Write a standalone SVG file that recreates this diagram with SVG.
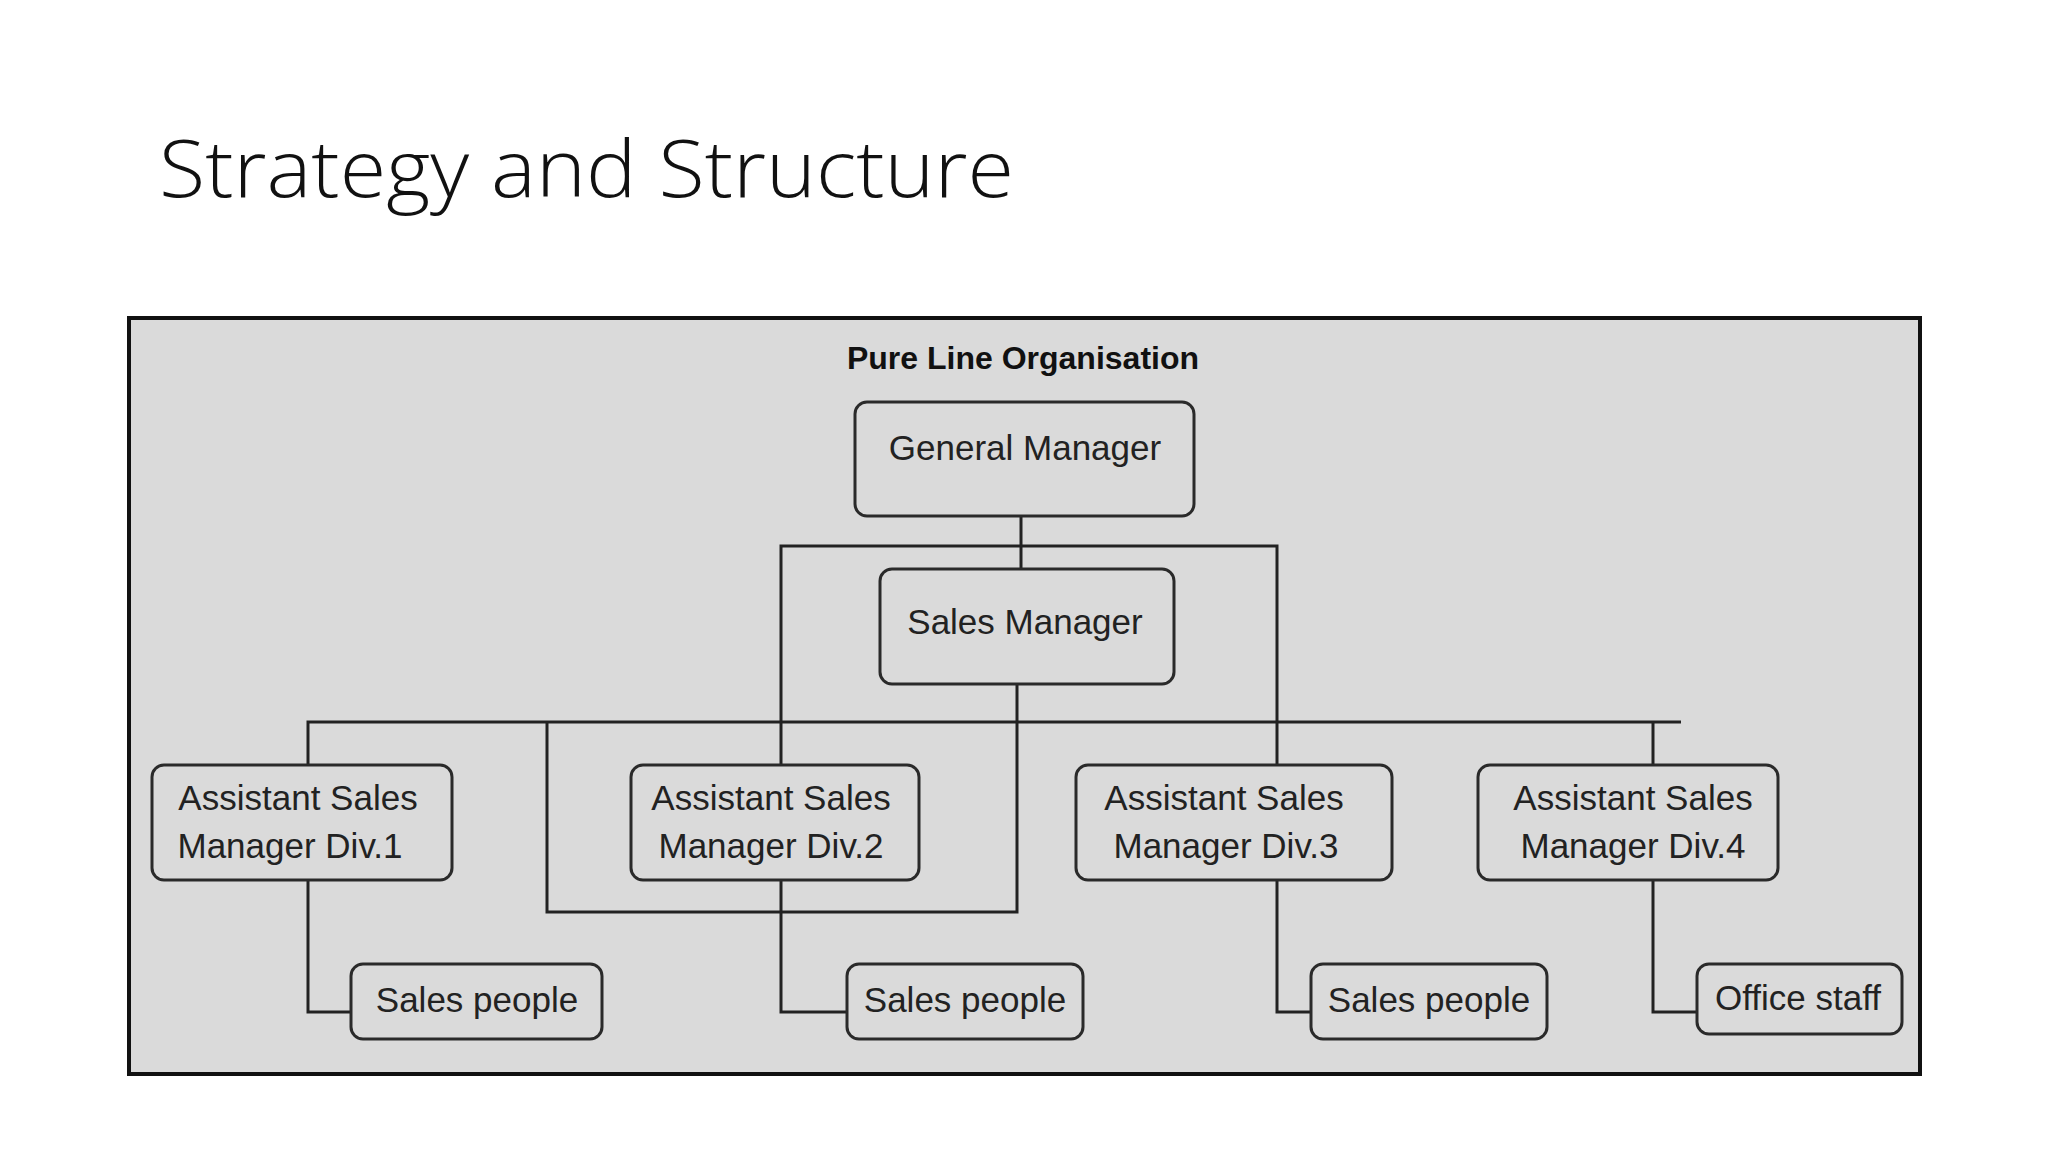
<svg xmlns="http://www.w3.org/2000/svg" width="2048" height="1152" viewBox="0 0 2048 1152">
<style>
.box{fill:#dadada;stroke:#2a2a2a;stroke-width:3}
.t{font-family:"Liberation Sans",Arial,sans-serif;font-size:35px;fill:#222;text-anchor:middle}
.c{fill:none;stroke:#222;stroke-width:3}
</style>
<rect width="2048" height="1152" fill="#fff"/>
<text x="159" y="197" font-family="'Open Sans',sans-serif" font-weight="300" font-size="80" fill="#111" textLength="855" lengthAdjust="spacingAndGlyphs">Strategy and Structure</text>
<rect x="129" y="318" width="1791" height="756" fill="#dadada" stroke="#111" stroke-width="4"/>
<text x="1023" y="369" font-family="'Liberation Sans',Arial,sans-serif" font-weight="bold" font-size="32" fill="#111" text-anchor="middle">Pure Line Organisation</text>
<g id="connectors" class="c">
<path d="M1021 516V569"/>
<path d="M781 765V546H1277V765"/>
<path d="M1017 684V912H547V722"/>
<path d="M308 765V722H1681M1653 722V765"/>
<path d="M308 880V1012H351"/>
<path d="M781 880V1012H847"/>
<path d="M1277 880V1012H1311"/>
<path d="M1653 880V1012H1697"/>
</g>
<g id="gm"><rect class="box" x="855" y="402" width="339" height="114" rx="12"/><text class="t" x="1025" y="460">General Manager</text></g>
<g id="sm"><rect class="box" x="880" y="569" width="294" height="115" rx="12"/><text class="t" x="1025" y="634">Sales Manager</text></g>
<g id="asm1"><rect class="box" x="152" y="765" width="300" height="115" rx="12"/><text class="t" x="298" y="810">Assistant Sales</text><text class="t" x="290" y="858">Manager Div.1</text></g>
<g id="asm2"><rect class="box" x="631" y="765" width="288" height="115" rx="12"/><text class="t" x="771" y="810">Assistant Sales</text><text class="t" x="771" y="858">Manager Div.2</text></g>
<g id="asm3"><rect class="box" x="1076" y="765" width="316" height="115" rx="12"/><text class="t" x="1224" y="810">Assistant Sales</text><text class="t" x="1226" y="858">Manager Div.3</text></g>
<g id="asm4"><rect class="box" x="1478" y="765" width="300" height="115" rx="12"/><text class="t" x="1633" y="810">Assistant Sales</text><text class="t" x="1633" y="858">Manager Div.4</text></g>
<g id="sp1"><rect class="box" x="351" y="964" width="251" height="75" rx="12"/><text class="t" x="477" y="1012">Sales people</text></g>
<g id="sp2"><rect class="box" x="847" y="964" width="236" height="75" rx="12"/><text class="t" x="965" y="1012">Sales people</text></g>
<g id="sp3"><rect class="box" x="1311" y="964" width="236" height="75" rx="12"/><text class="t" x="1429" y="1012">Sales people</text></g>
<g id="os"><rect class="box" x="1697" y="964" width="205" height="70" rx="12"/><text class="t" x="1798" y="1010">Office staff</text></g>
</svg>
